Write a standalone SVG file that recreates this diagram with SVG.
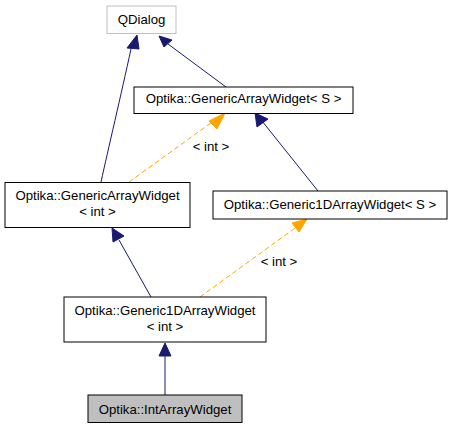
<svg xmlns="http://www.w3.org/2000/svg" width="453" height="429" viewBox="0 0 453 429">
<style>
.n{fill:#fff;stroke:#000;stroke-width:1}
.t{font-family:"Liberation Sans",Arial,Helvetica,sans-serif;font-size:13.2px;fill:#000;text-anchor:middle}
.e{fill:none;stroke:#191970;stroke-width:1}
.a{fill:#191970;stroke:#191970}
.d{fill:none;stroke:#ffa500;stroke-width:1;stroke-dasharray:5,3}
.da{fill:#ffa500;stroke:#ffa500}
</style>
<rect width="453" height="429" fill="#fff"/>
<g id="edges">
<path class="e" d="M101,182 C108,150 121,95 131,49"/>
<polygon class="a" points="137,35 127,48 139,49"/>
<path class="e" d="M226,87 L168,44"/>
<polygon class="a" points="159,36 164,47 172,40"/>
<path class="e" d="M318,191 L262,121"/>
<polygon class="a" points="255,113 257,127 268,119"/>
<path class="d" d="M129,182 L215,120"/>
<polygon class="da" points="225,113 209,121 217,129"/>
<text class="t" x="211" y="151">&lt; int &gt;</text>
<path class="e" d="M151,297 L119,240"/>
<polygon class="a" points="112,228 113,242 124,236"/>
<path class="d" d="M200,297 L298,226"/>
<polygon class="da" points="307,219 292,223 299,232"/>
<text class="t" x="279" y="266">&lt; int &gt;</text>
<path class="e" d="M165,395 L165,356"/>
<polygon class="a" points="165,343 159,356 171,356"/>
</g>
<g id="qdialog"><rect x="107" y="6" width="69" height="27.5" fill="#fff" stroke="#bfbfbf"/><text class="t" x="141.5" y="24">QDialog</text></g>
<g id="gaw_s"><rect class="n" x="134" y="87" width="219" height="26.5"/><text class="t" x="243.5" y="103">Optika::GenericArrayWidget&lt; S &gt;</text></g>
<g id="gaw_int"><rect class="n" x="5" y="182.5" width="185" height="45"/><text class="t" x="97.5" y="200">Optika::GenericArrayWidget</text><text class="t" x="97.5" y="216">&lt; int &gt;</text></g>
<g id="g1d_s"><rect class="n" x="213" y="191" width="234" height="28"/><text class="t" x="330" y="208.5">Optika::Generic1DArrayWidget&lt; S &gt;</text></g>
<g id="g1d_int"><rect class="n" x="64" y="297" width="202" height="45"/><text class="t" x="165" y="314.5">Optika::Generic1DArrayWidget</text><text class="t" x="165" y="330.5">&lt; int &gt;</text></g>
<g id="intarray"><rect x="88" y="395" width="154" height="27.5" fill="#bfbfbf" stroke="#000"/><text class="t" x="165" y="413.5">Optika::IntArrayWidget</text></g>
</svg>
